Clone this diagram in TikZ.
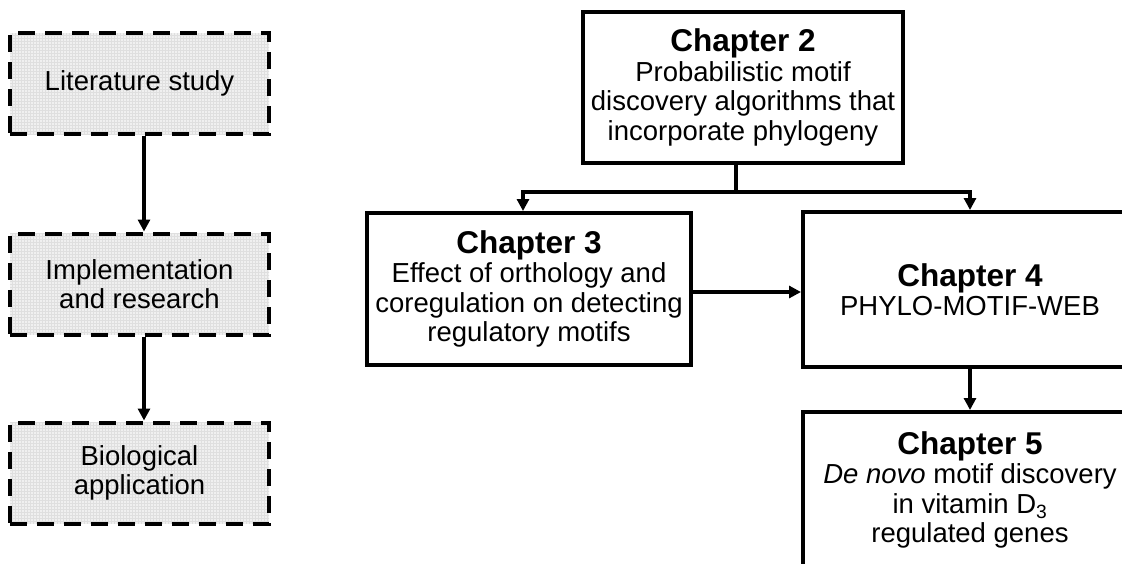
\documentclass[tikz,border=0pt]{standalone}
\usepackage{fontspec}
\setmainfont{Liberation Sans}
\usepackage{tikz}
\usetikzlibrary{arrows.meta, positioning, calc, patterns}
\newcommand{\txtfont}{\fontsize{27.5}{29.5}\selectfont}
\newcommand{\hdfont}{\fontsize{31.5}{33}\selectfont\bfseries}
\tikzset{
  phasebox/.style={rectangle, draw=black, line width=4pt,
    dash pattern=on 17pt off 10pt, preaction={fill=gray!12},
    pattern=grid, pattern color=gray!25,
    minimum width=259pt, minimum height=101pt, align=center, font=\txtfont},
  chapbox/.style={rectangle, draw=black, line width=4pt, fill=white,
    align=center, font=\txtfont},
  arrow/.style={-{Triangle[length=12pt,width=12pt]}, line width=4pt},
  line/.style={line width=4pt}
}

\begin{document}
\begin{tikzpicture}[x=1pt, y=-1pt]
  \useasboundingbox (0,0) rectangle (1122,563);
  \clip (0,0) rectangle (1122,563);

  % Work phases (left column)
  \node[phasebox] (lit) at (139.5,83.5) {Literature study};
  \node[phasebox] (impl) at (139.5,284) {Implementation\\and research};
  \node[phasebox] (bio) at (139.5,473) {Biological\\application};

  \draw[arrow] ($(lit.south)+(4.5,0)$) -- ($(impl.north)+(4.5,0)$);
  \draw[arrow] ($(impl.south)+(4.5,0)$) -- ($(bio.north)+(4.5,0)$);

  % Chapters
  \node[chapbox, minimum width=320pt, minimum height=151pt] (ch2) at (743,87.5)
    {{\hdfont Chapter 2}\\Probabilistic motif\\discovery algorithms that\\incorporate phylogeny};
  \node[chapbox, minimum width=324pt, minimum height=152pt] (ch3) at (529,289)
    {{\hdfont Chapter 3}\\Effect of orthology and\\coregulation on detecting\\regulatory motifs};
  \node[chapbox, minimum width=334pt, minimum height=155pt] (ch4) at (970,289.5)
    {{\hdfont Chapter 4}\\PHYLO-MOTIF-WEB};
  \node[chapbox, minimum width=334pt, minimum height=156pt] (ch5) at (970,490)
    {{\hdfont Chapter 5}\\\textit{De novo} motif discovery\\in vitamin D\textsubscript{3}\\regulated genes};

  % Connectors between chapters
  \coordinate (fork) at ($(ch2.south)+(-7,27)$);
  \draw[line] (fork) -- (fork |- ch2.south);
  \draw[arrow] (fork) -| ($(ch3.north)+(-6,0)$);
  \draw[arrow] (fork) -| (ch4.north);
  \draw[arrow] (ch3.east |- 0,292) -- (ch4.west |- 0,292);
  \draw[arrow] (ch4) -- (ch5);
\end{tikzpicture}
\end{document}
